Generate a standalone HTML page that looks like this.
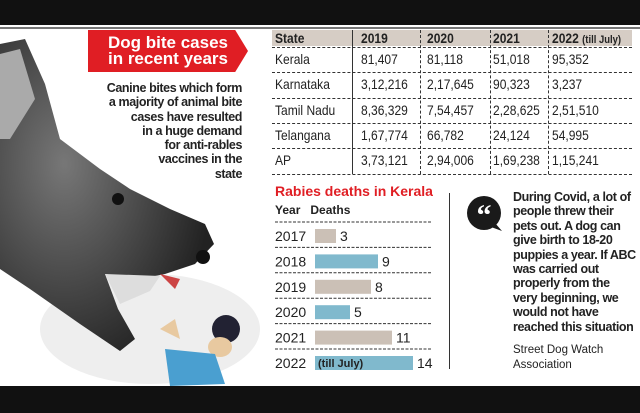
<!DOCTYPE html>
<html><head><meta charset="utf-8"><style>
body{margin:0;width:640px;height:413px;overflow:hidden;background:#fff;font-family:"Liberation Sans",sans-serif;position:relative}
.abs{position:absolute}
.c{position:absolute;font-size:14px;color:#222;white-space:nowrap;transform:scaleX(0.86);transform-origin:left top}
</style></head><body>
<div class="abs" style="left:0;top:0;width:640px;height:25px;background:#111"></div>
<div class="abs" style="left:0;top:27px;width:640px;height:2px;background:#777"></div>
<div class="abs" style="left:0;top:386px;width:640px;height:27px;background:#111"></div>

<svg class="abs" style="left:0;top:29px" width="260" height="357">
<defs><radialGradient id="g" cx="0.3" cy="0.4" r="0.7"><stop offset="0" stop-color="#777"/><stop offset="1" stop-color="#222"/></radialGradient></defs>
<ellipse cx="150" cy="300" rx="110" ry="55" fill="#eee"/>
<path d="M0,15 L25,10 L45,55 L60,110 L100,140 L130,160 L170,180 L205,195 L214,215 L195,235 L165,245 L140,250 L105,245 L118,280 L135,310 L120,322 L80,295 L30,260 L0,240 Z" fill="url(#g)"/>
<path d="M0,25 L20,20 L35,70 L10,110 L0,110Z" fill="#aaa"/>
<path d="M105,245 L160,247 L150,262 L120,275Z" fill="#ddd"/>
<path d="M160,245 L180,250 L175,260Z" fill="#c44"/>
<circle cx="118" cy="170" r="6" fill="#111"/>
<circle cx="203" cy="228" r="7" fill="#111"/>
<circle cx="226" cy="300" r="14" fill="#223"/>
<ellipse cx="220" cy="318" rx="12" ry="10" fill="#e8c9a0"/>
<path d="M165,320 L215,325 L225,355 L170,357Z" fill="#4a9fd0"/>
<path d="M160,300 L175,290 L180,310Z" fill="#e8c9a0"/>
</svg>

<div class="abs" style="left:88px;top:30px;width:160px;height:42px;background:#e01e24;clip-path:polygon(0 0,92% 0,100% 50%,92% 100%,0 100%);color:#fff;font-weight:bold;font-size:17px;line-height:16px;padding:5px 0 0 0;box-sizing:border-box;text-align:center">Dog bite cases<br>in recent years</div>
<div class="abs" style="left:60px;top:81px;width:182px;text-align:right;font-weight:bold;font-size:12.5px;line-height:14.3px;color:#222;letter-spacing:-0.4px">Canine bites which form<br>a majority of animal bite<br>cases have resulted<br>in a huge demand<br>for anti-rables<br>vaccines in the<br>state</div>

<div class="abs" style="left:272px;top:30px;width:360px;height:16px;background:#d6cdc5"></div>
<div id="rows"></div>

<div class="abs" style="left:275px;top:183px;font-weight:bold;font-size:14px;color:#e01e24">Rabies deaths in Kerala</div>
<div class="abs" style="left:275px;top:203px;font-weight:bold;font-size:12px;color:#222">Year&nbsp;&nbsp; Deaths</div>
<svg class="abs" id="bars" style="left:270px;top:215px" width="175" height="165"></svg>

<div class="abs" style="left:449px;top:193px;width:1px;height:176px;background:#333"></div>
<svg class="abs" style="left:465px;top:195px" width="40" height="40"><circle cx="19" cy="18" r="17" fill="#1a1a1a"/><path d="M30,28 L37,36 L26,32Z" fill="#1a1a1a"/><text x="19" y="30" text-anchor="middle" fill="#fff" font-size="30" font-weight="bold" font-family="Liberation Serif">“</text></svg>
<div class="abs" style="left:513px;top:190px;width:127px;font-weight:bold;font-size:12.5px;line-height:14.4px;color:#222;letter-spacing:-0.4px;white-space:nowrap">During Covid, a lot of<br>people threw their<br>pets out. A dog can<br>give birth to 18-20<br>puppies a year. If ABC<br>was carried out<br>properly from the<br>very beginning, we<br>would not have<br>reached this situation</div>
<div class="abs" style="left:513px;top:343px;font-size:11.5px;line-height:14.5px;color:#222">Street Dog Watch<br>Association</div>

<script>
const headers=["State","2019","2020","2021","2022"];
const states=["Kerala","Karnataka","Tamil Nadu","Telangana","AP"];
const v2019=["81,407","3,12,216","8,36,329","1,67,774","3,73,121"];
const v2020=["81,118","2,17,645","7,54,457","66,782","2,94,006"];
const v2021=["51,018","90,323","2,28,625","24,124","1,69,238"];
const v2022=["95,352","3,237","2,51,510","54,995","1,15,241"];
const years=["2017","2018","2019","2020","2021","2022"];
const deaths=[3,9,8,5,11,14];

const rows=document.getElementById('rows');
const colX=[275,361,427,493,552];
const ns="http://www.w3.org/2000/svg";
headers.forEach((t,j)=>{
  const d=document.createElement('div');
  
  
  d.className='c';d.style.left=colX[j]+'px';d.style.top='30px';d.style.fontWeight='bold';
  d.innerHTML=t+(j==4?' <span style="font-size:11px">(till July)</span>':'');
  rows.appendChild(d);
});
states.forEach((s,i)=>{
  const top=51+i*25.3;
  [s,v2019[i],v2020[i],v2021[i],v2022[i]].forEach((t,j)=>{
    const d=document.createElement('div');
    
    
    d.className='c';d.textContent=t;
    d.style.left=colX[j]+'px';d.style.top=top+'px';
    rows.appendChild(d);
  });
  const l=document.createElement('div');
  
  
  l.className='abs';l.style.cssText=`left:272px;top:${top-4}px;width:360px;border-top:1px dashed #333`;
  rows.appendChild(l);
});
const last=document.createElement('div');


last.className='abs';last.style.cssText='left:272px;top:174px;width:360px;border-top:1px dashed #333';rows.appendChild(last);
[352,420,490,548].forEach((x,k)=>{const v=document.createElement('div');


v.className='abs';v.style.cssText=`left:${x}px;top:30px;height:144px;border-left:1px ${k==0?'solid':'dashed'} #333`;rows.appendChild(v);});

const svg=document.getElementById('bars');
const x0=45,unit=7,rowH=25.4;
function xs(v){return x0+v*unit;}
years.forEach((y,i)=>{
  const cy=21+i*rowH;
  const ln=document.createElementNS(ns,'line');
  
  
  ln.setAttribute('x1',5);ln.setAttribute('x2',161);ln.setAttribute('y1',cy-14);ln.setAttribute('y2',cy-14);
  ln.setAttribute('stroke','#333');ln.setAttribute('stroke-dasharray','3,1.5');svg.appendChild(ln);
  const t=document.createElementNS(ns,'text');
  
  
  t.setAttribute('x',5);t.setAttribute('y',cy+5);t.setAttribute('font-size','14');t.setAttribute('fill','#222');t.textContent=y;svg.appendChild(t);
  const r=document.createElementNS(ns,'rect');
  
  
  r.setAttribute('x',x0);r.setAttribute('y',cy-7);r.setAttribute('width',xs(deaths[i])-x0);r.setAttribute('height',14);
  r.setAttribute('fill',i%2?'#80b9cd':'#cbc0b6');svg.appendChild(r);
  const vt=document.createElementNS(ns,'text');
  
  
  vt.setAttribute('x',xs(deaths[i])+4);vt.setAttribute('y',cy+5);vt.setAttribute('font-size','14');vt.setAttribute('fill','#222');vt.textContent=deaths[i];svg.appendChild(vt);
  if(y==="2022"){const n=document.createElementNS(ns,'text');
  
  
  n.setAttribute('x',x0+3);n.setAttribute('y',cy+4);n.setAttribute('font-size','11');n.setAttribute('font-weight','bold');n.setAttribute('fill','#222');n.textContent='(till July)';svg.appendChild(n);}
});
</script>
</body></html>
